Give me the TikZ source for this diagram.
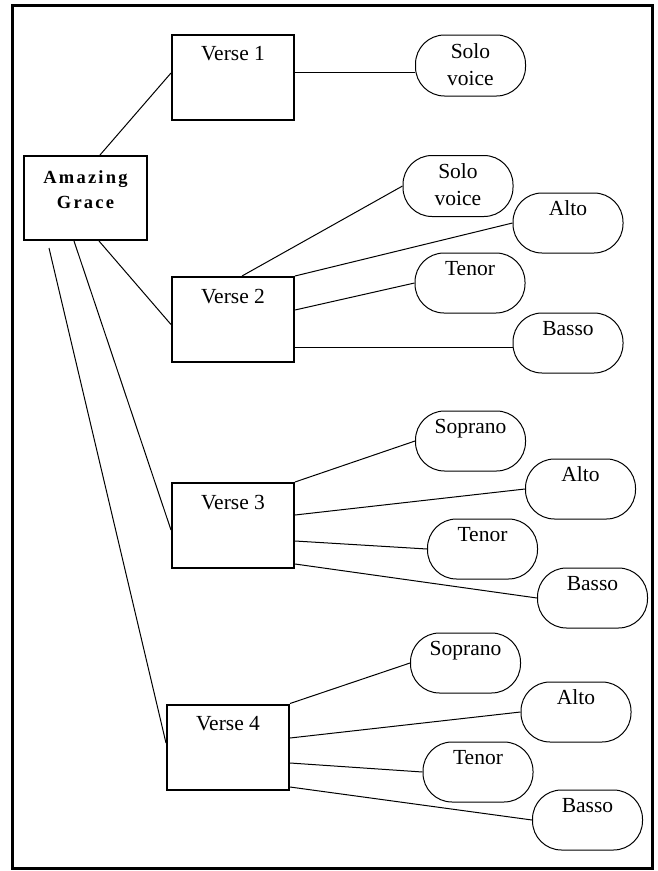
\documentclass[tikz,border=0pt]{standalone}
\usepackage{fontspec}
\setmainfont{Liberation Serif}
\newfontfamily\graceface[LetterSpace=12]{Liberation Serif}
\usepackage{tikz}
\usetikzlibrary{calc}
\tikzset{
	versebox/.style={draw, line width=2pt, minimum width=122pt, inner sep=0pt, text height=26pt, text depth=59pt, font=\fontsize{21.5}{27}\selectfont},
	titlebox/.style={versebox, minimum width=123pt, text height=27pt, text depth=57pt, font=\graceface\bfseries\fontsize{18.5}{25}\selectfont},
	voiceoval/.style={draw, line width=1pt, rounded corners=29pt, minimum width=110pt, inner sep=0pt, text height=22.5pt, text depth=37.5pt, font=\fontsize{21.5}{27}\selectfont},
	solooval/.style={voiceoval, text height=23pt, text depth=38pt},
	link/.style={line width=1pt}
}
\newcommand{\twolines}[2]{\begin{tabular}[t]{@{}c@{}}#1\\#2\end{tabular}}

\begin{document}
\begin{tikzpicture}[x=1pt,y=-1pt]
						\useasboundingbox (0,0) rectangle (657,871);
						\draw [line width=3pt] (12,5) rectangle (652,868);
						\node [titlebox] (grace) at (85.5,198) {\twolines{Amazing}{Grace}};
						\node [versebox] (v1) at (233,77) {Verse 1};
						\node [versebox] (v2) at (233,319.5) {Verse 2};
						\node [versebox] (v3) at (233,525.5) {Verse 3};
						\node [versebox] (v4) at (228,747) {Verse 4};
						\node [solooval] (solo1) at (470.5,65.5) {\twolines{Solo}{voice}};
						\node [solooval] (solo2) at (458,186) {\twolines{Solo}{voice}};
						\node [voiceoval] (alto2) at (568,223) {Alto};
						\node [voiceoval] (tenor2) at (470,283) {Tenor};
						\node [voiceoval] (basso2) at (568,343) {Basso};
						\node [voiceoval] (sop3) at (470.5,441) {Soprano};
						\node [voiceoval] (alto3) at (580.5,489) {Alto};
						\node [voiceoval] (tenor3) at (482.5,549) {Tenor};
						\node [voiceoval] (basso3) at (592.5,598) {Basso};
						\node [voiceoval] (sop4) at (465.5,663) {Soprano};
						\node [voiceoval] (alto4) at (576,712) {Alto};
						\node [voiceoval] (tenor4) at (478,772) {Tenor};
						\node [voiceoval] (basso4) at (587.5,820) {Basso};
						\draw [link] ([xshift=14.5pt]grace.north) -- ([yshift=4pt]v1.west);
						\draw [link] ([xshift=13.5pt]grace.south) -- ([yshift=-5pt]v2.west);
						\draw [link] ([xshift=-11.5pt]grace.south) -- ([yshift=-4.5pt]v3.west);
						\draw [link] ([xshift=-36.5pt,yshift=-7pt]grace.south) -- ([yshift=4pt]v4.west);
						\draw [link] ([yshift=5pt]v1.east) -- ([yshift=-6.5pt]solo1.west);
						\draw [link] ([xshift=9pt]v2.north) -- (solo2.west);
						\draw [link] (v2.north east) -- (alto2.west);
						\draw [link] ([yshift=9.5pt]v2.east) -- (tenor2.west);
						\draw [link] ([yshift=-27.5pt]v2.east) -- ([yshift=-4pt]basso2.west);
						\draw [link] (v3.north east) -- (sop3.west);
						\draw [link] ([yshift=10.5pt]v3.east) -- (alto3.west);
						\draw [link] ([yshift=-15.5pt]v3.east) -- (tenor3.west);
						\draw [link] ([yshift=-38.5pt]v3.east) -- (basso3.west);
						\draw [link] (v4.north east) -- (sop4.west);
						\draw [link] ([yshift=9pt]v4.east) -- (alto4.west);
						\draw [link] ([yshift=-16pt]v4.east) -- (tenor4.west);
						\draw [link] ([yshift=-40pt]v4.east) -- (basso4.west);
					\end{tikzpicture}
\end{document}
